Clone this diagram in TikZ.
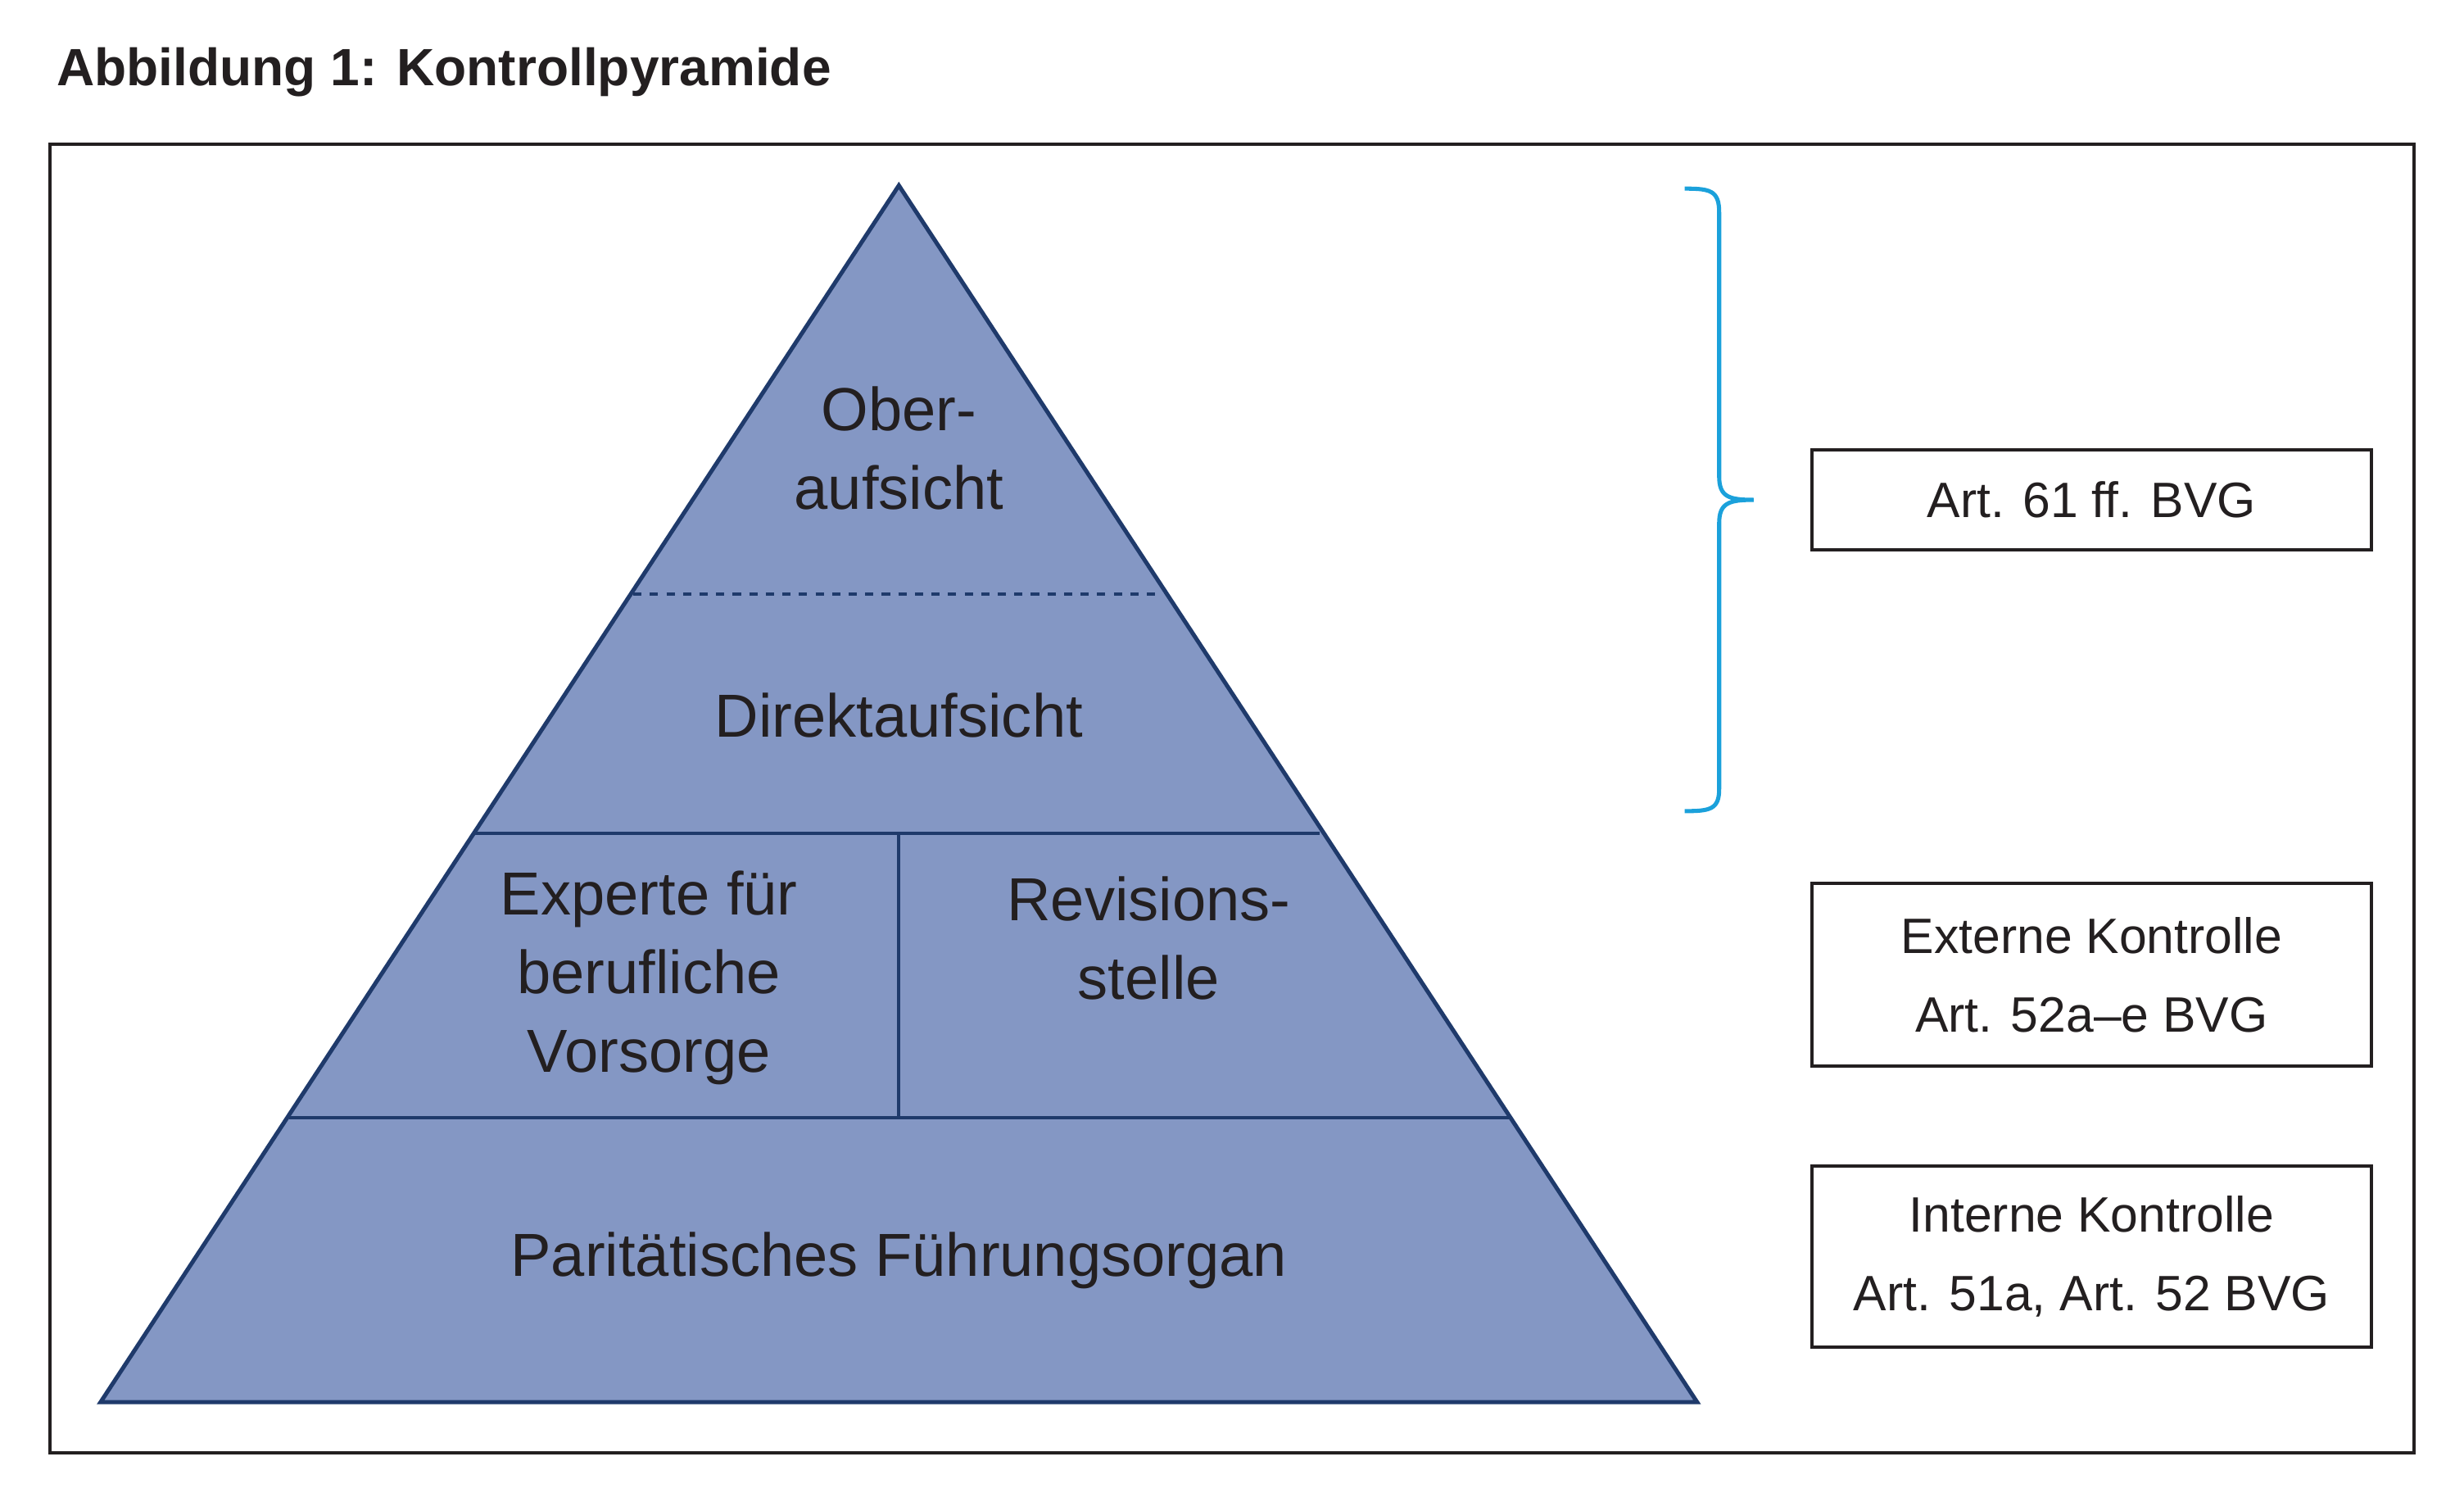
\documentclass[tikz,border=0pt]{standalone}
\usepackage{fontspec}
\setmainfont{Liberation Sans}
\definecolor{pyr}{HTML}{8497C4}
\definecolor{navy}{HTML}{1F3A6B}
\definecolor{cyanb}{HTML}{1BA1DB}
\definecolor{txt}{HTML}{231F20}
\tikzset{
  lbl/.style={text=txt,font=\fontsize{22}{28.5}\selectfont,align=center},
  boxt/.style={draw=txt,line width=1.2pt,text=txt,font=\fontsize{18}{28.5}\selectfont,align=center,minimum width=7.12cm,inner sep=0pt},
  sep/.style={navy,line width=1.2pt}
}
\begin{document}
\begin{tikzpicture}[x=0.02cm,y=-0.02cm]
\useasboundingbox (0,0) rectangle (1568,955);
\node[anchor=west,text=txt,font=\bfseries\fontsize{19}{22}\selectfont] (title) at (30,46) {Abbildung 1: Kontrollpyramide};
\draw[txt,line width=1.2pt] (32,92) rectangle (1536,924);
\coordinate (apex) at (572,118);
\coordinate (bl) at (64,892);
\coordinate (br) at (1080,892);
\draw[navy,line width=1.5pt,fill=pyr,line join=miter] (apex) -- (br) -- (bl) -- cycle;
\draw[sep,dashed] (403,378) -- (740,378);
\draw[sep] (302,530) -- (840,530);
\draw[sep] (184,711) -- (960,711);
\draw[sep] (572,530) -- (572,711);
\node[lbl] (ober) at (572,285) {Ober-\\aufsicht};
\node[lbl] (direkt) at (572,455) {Direktaufsicht};
\node[lbl] (exp) at (413,622) {Experte für\\berufliche\\Vorsorge};
\node[lbl] (rev) at (731,597) {Revisions-\\stelle};
\node[lbl] (par) at (572,802) {Paritätisches Führungsorgan};
\draw[cyanb,line width=1.5pt] (1072,120) .. controls (1088,120) and (1094,121) .. (1094,135)
  -- (1094,303) .. controls (1094,316) and (1100,318) .. (1116,318)
  .. controls (1100,318) and (1094,320) .. (1094,333)
  -- (1094,502) .. controls (1094,515) and (1088,516) .. (1072,516);
\node[boxt,minimum height=1.28cm] (b1) at (1331,318) {Art. 61 ff. BVG};
\node[boxt,minimum height=2.32cm] (b2) at (1331,620) {Externe Kontrolle\\Art. 52a–e BVG};
\node[boxt,minimum height=2.3cm] (b3) at (1331,799.5) {Interne Kontrolle\\Art. 51a, Art. 52 BVG};
\end{tikzpicture}
\end{document}
